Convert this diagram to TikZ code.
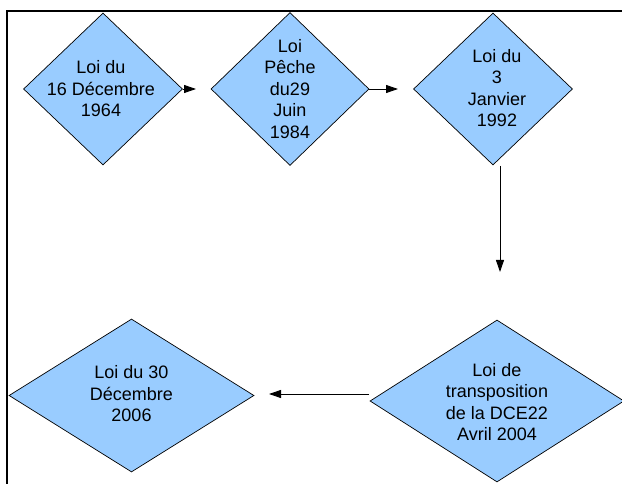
\documentclass[tikz,border=0pt]{standalone}
\usepackage{fontspec}
\setmainfont{Liberation Sans}
\definecolor{loiblue}{RGB}{153,204,255}
\usetikzlibrary{arrows.meta, shapes.geometric, positioning}

\begin{document}
\begin{tikzpicture}[x=1pt, y=-1pt,
	loi/.style={shape=diamond, draw=black, fill=loiblue, line width=0.7pt, inner sep=0pt},
	txt/.style={align=center, inner sep=0pt, font=\fontsize{18}{21.5}\selectfont},
	arr/.style={-{Triangle[length=12pt, width=8pt]}, line width=0.9pt},
	frame/.style={line width=1.8pt}]
	\useasboundingbox (0,0) rectangle (622,484);
	\coordinate (fa) at (7,484);
	\coordinate (fb) at (622,11);
	\draw[frame] (fa) |- (fb);
	\node[loi, minimum width=159pt, minimum height=152pt] (d1) at (103,89) {};
	\node[loi, minimum width=158pt, minimum height=153pt] (d2) at (290,89) {};
	\node[loi, minimum width=159pt, minimum height=152pt] (d3) at (493,89) {};
	\node[loi, minimum width=254pt, minimum height=162pt] (d4) at (497,401) {};
	\node[loi, minimum width=245pt, minimum height=153pt] (d5) at (131.5,395.5) {};
	\node[txt] (t1) at (101,89) {Loi du\\16 Décembre\\1964};
	\node[txt] (t2) at (290,89) {Loi\\Pêche\\du29\\Juin\\1984};
	\node[txt] (t3) at (497,88) {Loi du\\3\\Janvier\\1992};
	\node[txt] (t4) at (497,402) {Loi de\\transposition\\de la DCE22\\Avril 2004};
	\node[txt] (t5) at (131.5,394) {Loi du 30\\Décembre\\2006};
	\coordinate (e1) at (196,89);
	\coordinate (e2) at (398,89);
	\coordinate (s3) at (500,166);
	\coordinate (e3) at (500,272);
	\coordinate (s4) at (369,394);
	\coordinate (e4) at (269,394);
	\draw[arr] (d1.east) -- (e1);
	\draw[arr] (d2.east) -- (e2);
	\draw[arr] (s3) -- (e3);
	\draw[arr] (s4) -- (e4);
\end{tikzpicture}
\end{document}
